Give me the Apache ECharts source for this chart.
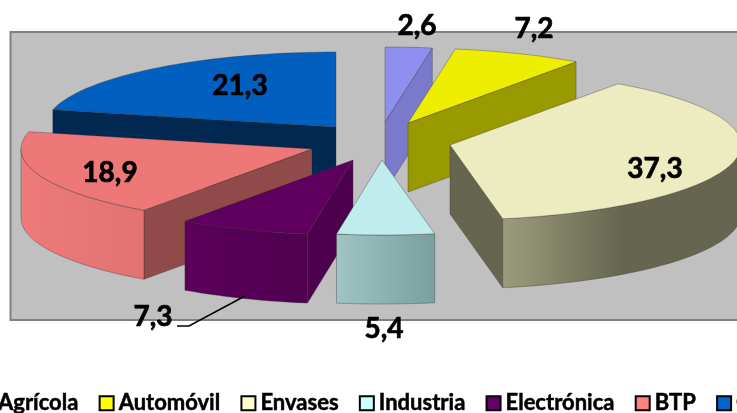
<!DOCTYPE html>
<html><head><meta charset="utf-8">
<style>html,body{margin:0;padding:0;background:#fff;overflow:hidden}#c{width:737px;height:413px}</style>
<script src="https://cdn.jsdelivr.net/npm/echarts@6/dist/echarts.min.js"></script>
</head><body><div id="c"></div>
<script>
const categories = ['Agrícola','Automóvil','Envases','Industria','Electrónica','BTP','Construcción'];
const values = [2.6,7.2,37.3,5.4,7.3,18.9,21.3];
const baseColors = ['#9999ff','#ffff00','#ffffcc','#ccffff','#660066','#ff8080','#0066cc'];
const topColors  = ['#8f8fef','#eeee00','#ececc0','#bfecec','#5f005f','#ee7777','#005fbf'];
const radialColors = ['#7a7acc','#999900','#666650','#7a9f9f','#4d004d','#914a4a','#002850'];
const arcFrom = ['#8f8fef','#eeee00','#9c9c7c','#a0c4c4','#5c005c','#ee7a7a','#005fbf'];
const arcTo   = ['#8f8fef','#eeee00','#666650','#7a9f9f','#4f004f','#e27272','#005fbf'];
const arcMid  = [1,1,0.5,1,1,1,1];
const apexes = [[385,122],[408,123],[450,145],[382,160],[353,160],[312,149],[336,127]];
const labelPos = [[417,26],[534,29],[655,169],[384,329],[153,317],[110,173],[240,86]];
const drawOrder = [2,3,5,8,7,4,1];
const RX = 291, RY = 75, DEPTH = 69;
const FONT = 'Lato, Carlito, "Open Sans", sans-serif';
const total = values.reduce((a,b)=>a+b,0);
const cum = []; values.reduce((a,v,i)=>(cum[i]=a,a+v),0);
const toAngle = v => v/total*360;
const rad = d => d*Math.PI/180;
function pt(c,deg,dy){return [c[0]+RX*Math.sin(rad(deg)), c[1]-RY*Math.cos(rad(deg))+(dy||0)];}
function arcPts(c,a,b,dy){const out=[];const n=Math.max(2,Math.ceil((b-a)/2));for(let k=0;k<=n;k++)out.push(pt(c,a+(b-a)*k/n,dy));return out;}
const edge = {stroke:'rgba(50,50,50,0.35)',lineWidth:1};

function makeRender(i){
  return function(){
    const a = toAngle(cum[i]), b = toAngle(cum[i]+values[i]), c = apexes[i];
    const kids = [];
    [[a,-1],[b,1]].forEach(([ang,dir])=>{
      const normalNorth = Math.cos(rad(ang+dir*90));
      if(normalNorth < -0.01){
        const p = pt(c,ang);
        kids.push({type:'polygon',shape:{points:[c,p,[p[0],p[1]+DEPTH],[c[0],c[1]+DEPTH]]},
          style:{fill:radialColors[i],...edge}});
      }
    });
    const fa = Math.max(a,90), fb = Math.min(b,270);
    if(fb>fa){
      const up = arcPts(c,fa,fb), low = arcPts(c,fa,fb,DEPTH).reverse();
      const ps = up.concat(low);
      const xs = ps.map(p=>p[0]); const x0=Math.min(...xs), x1=Math.max(...xs);
      kids.push({type:'polygon',shape:{points:ps},style:{
        fill:new echarts.graphic.LinearGradient(x0,0,x1,0,[{offset:0,color:arcFrom[i]},{offset:arcMid[i],color:arcTo[i]},{offset:1,color:arcTo[i]}],true),...edge}});
    }
    kids.push({type:'polygon',shape:{points:[c].concat(arcPts(c,a,b))},style:{fill:topColors[i],...edge}});
    kids.push({type:'text',z2:100,style:{x:labelPos[i][0],y:labelPos[i][1],text:String(values[i]).replace('.',','),
      fill:'#000',stroke:'#000',lineWidth:0.7,font:'bold 28px '+FONT,textAlign:'center',textVerticalAlign:'middle'}});
    if(categories[i]==='Electrónica'){
      kids.push({type:'polyline',z2:100,shape:{points:[[177,326],[189,326],[245,296]]},style:{stroke:'#000',lineWidth:1.5,fill:null}});
    }
    return {type:'group',children:kids};
  };
}
const series = categories.map((name,i)=>({
  type:'custom',name,coordinateSystem:'none',z:drawOrder[i],silent:true,
  clip:false,data:[[values[i]]],renderItem:makeRender(i),itemStyle:{color:baseColors[i]}
}));
const chart = echarts.init(document.getElementById('c'),null,{renderer:'canvas'});
chart.setOption({
  animation:false,
  backgroundColor:'#fff',
  graphic:[{type:'rect',z:0,shape:{x:10.5,y:32,width:760,height:288},style:{fill:'#c0c0c0',stroke:'#808080',lineWidth:2},silent:true}],
  legend:{
    left:-27,top:387,width:1200,itemGap:20,itemWidth:14,itemHeight:14,icon:'rect',selectedMode:false,
    itemStyle:{borderColor:'#000',borderWidth:2},
    textStyle:{color:'#000',fontFamily:FONT,fontWeight:'bold',fontSize:22,textBorderColor:'#000',textBorderWidth:0.5},
    data:categories.map((name,i)=>({name,itemStyle:{color:baseColors[i]}}))
  },
  series
});
</script></body></html>
